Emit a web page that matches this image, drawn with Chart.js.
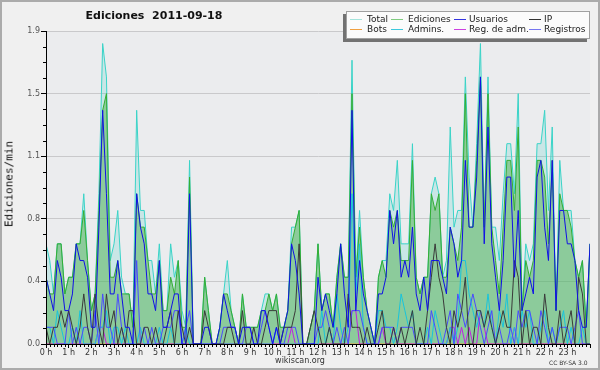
<!DOCTYPE html>
<html>
<head>
<meta charset="utf-8">
<script src="https://cdn.jsdelivr.net/npm/chart.js@4/dist/chart.umd.min.js"></script>
<style>
body{margin:0;background:#fff}
#wrap{position:relative;width:600px;height:370px;background:#f0f0f0;overflow:hidden}
#wrap:after{content:'';position:absolute;left:0;top:0;right:0;bottom:0;border:2px solid #ababab;pointer-events:none}
canvas{position:absolute;left:0;top:0}
.t{position:absolute;font-family:"DejaVu Sans",sans-serif;white-space:nowrap;color:#222}
#title{left:154px;top:9px;transform:translateX(-50%);font-weight:bold;font-size:11px;color:#111}
#ylab{left:9px;top:184px;transform:translate(-50%,-50%) rotate(-90deg);font-family:"DejaVu Sans Mono",monospace;font-size:11px;color:#111}
#site{left:300px;top:356px;transform:translateX(-50%);font-size:8px;color:#333}
#lic{left:549px;top:359px;font-size:6px;color:#333}
#legend{position:absolute;left:346px;top:11px;width:242px;height:26px;background:#fbfbfb;border:1px solid #a0a0a0;box-shadow:-3px 3px 0 #727272}
.lt{position:absolute;font-family:"DejaVu Sans",sans-serif;font-size:9px;color:#222;line-height:10px;white-space:nowrap}
.ll{position:absolute;display:block;height:1px;width:12px}
</style>
</head>
<body>
<div id="wrap">
<canvas id="c" width="600" height="370"></canvas>
<div class="t" id="title">Ediciones&nbsp; 2011-09-18</div>
<div class="t" id="ylab">Ediciones/min</div>
<div class="t" id="site">wikiscan.org</div>
<div class="t" id="lic">CC BY-SA 3.0</div>
<div id="legend"></div>
</div>
<script>
// valores cada 10 minutos (0 h .. 24 h)
const total = [
0.6,0.5,0.3,0.6,0.6,0.3,0.4,0.4,0.6,0.6,
0.9,0.5,0.2,0.3,0.9,1.8,1.6,0.5,0.6,0.8,
0.4,0.3,0.3,0.1,1.4,0.8,0.8,0.5,0.5,0.3,
0.6,0.2,0.2,0.6,0.4,0.5,0.2,0.1,1.1,0,
0,0,0.4,0.2,0,0,0.1,0.3,0.5,0.2,
0.1,0,0.3,0.1,0.1,0.1,0.1,0.2,0.3,0.3,
0.2,0.3,0.1,0.1,0.2,0.7,0.7,0.8,0,0,
0.1,0.2,0.6,0.2,0.3,0.3,0.1,0.4,0.6,0.4,
0.4,1.7,0.4,0.8,0.4,0.2,0.1,0,0.4,0.5,
0.5,0.9,0.8,1.1,0.6,0.6,0.6,1.2,0.4,0.3,
0.4,0.4,0.9,1.0,0.9,0.4,0.5,1.3,0.7,0.8,
0.8,1.6,1.0,0.7,1.2,1.8,0.7,1.6,0.7,0.7,
0.5,0.9,1.2,1.2,0.9,1.5,0.2,0.6,0.5,0.6,
1.2,1.2,1.4,0.8,1.3,0.2,1.1,0.8,0.8,0.8,
0.5,0.4,0.5,0.1,0.6];
const ediciones = [
0.4,0.3,0.3,0.6,0.6,0.3,0.4,0.4,0.6,0.6,
0.8,0.5,0.2,0.3,0.8,1.4,1.5,0.4,0.4,0.5,
0.3,0.3,0.3,0.1,0.9,0.7,0.7,0.5,0.3,0.3,
0.5,0.2,0.2,0.4,0.3,0.5,0.1,0.1,1.0,0,
0,0,0.4,0.2,0,0,0.1,0.3,0.3,0.2,
0.1,0,0.3,0.1,0.1,0.1,0.1,0.2,0.2,0.3,
0.2,0.3,0.1,0.1,0.2,0.6,0.7,0.8,0,0,
0.1,0.2,0.6,0.2,0.3,0.3,0.1,0.4,0.6,0.4,
0.4,1.5,0.4,0.7,0.4,0.2,0.1,0,0.4,0.5,
0.4,0.8,0.7,0.8,0.5,0.5,0.5,1.1,0.4,0.3,
0.4,0.4,0.9,0.8,0.9,0.4,0.4,0.7,0.6,0.5,
0.7,1.5,0.7,0.7,1.1,1.6,0.7,1.5,0.7,0.5,
0.3,0.7,1.1,1.1,0.8,1.3,0.2,0.5,0.4,0.5,
1.1,1.1,1.0,0.6,1.1,0.2,0.9,0.8,0.8,0.7,
0.5,0.4,0.5,0.1,0.6];
const usuarios = [
0.4,0.3,0.2,0.5,0.4,0.2,0.2,0.3,0.6,0.5,
0.5,0.4,0.1,0.1,0.7,1.4,0.9,0.3,0.3,0.5,
0.3,0.1,0.1,0,0.9,0.7,0.6,0.3,0.3,0.2,
0.5,0.1,0.1,0.2,0.3,0.3,0,0,0.9,0,
0,0,0.1,0.1,0,0,0.1,0.3,0.2,0.1,
0.1,0,0.1,0.1,0.1,0,0,0.2,0.2,0.1,
0,0.1,0,0.1,0.2,0.6,0.5,0.3,0,0,
0,0,0.4,0.2,0.3,0.2,0.1,0.3,0.6,0.3,
0.1,1.4,0.2,0.5,0.3,0.2,0.1,0,0.3,0.3,
0.4,0.8,0.6,0.8,0.4,0.5,0.4,0.7,0.3,0.2,
0.4,0.2,0.5,0.5,0.5,0.4,0.3,0.7,0.6,0.4,
0.5,1.1,0.7,0.7,1.0,1.6,0.6,1.3,0.6,0.4,
0.2,0.5,1.0,1.0,0.4,0.8,0.2,0.3,0.4,0.3,
1.0,1.1,0.7,0.5,1.1,0.2,0.8,0.8,0.6,0.6,
0.5,0.2,0.1,0.1,0.6];
const ip = [
0.1,0,0.1,0.1,0.2,0.1,0.2,0.1,0,0.1,
0.3,0.1,0,0.3,0.1,0,0.3,0.1,0.2,0,
0.1,0,0.2,0.2,0,0,0.1,0.1,0,0.1,
0,0,0.1,0.2,0,0.2,0.1,0,0.1,0,
0,0,0.2,0.1,0,0,0,0,0.1,0.1,
0,0,0.2,0,0,0.1,0,0,0.1,0.2,
0.2,0.2,0,0.1,0.1,0.1,0.2,0.6,0,0,
0.1,0.2,0.1,0,0,0.1,0,0,0,0,
0.3,0.1,0.1,0.1,0,0.1,0,0,0.1,0.2,
0,0,0.1,0,0.1,0,0.1,0.2,0,0.1,
0,0.2,0.4,0.6,0.4,0.3,0.1,0,0.2,0.1,
0.2,0.4,0,0,0.2,0.2,0.1,0.2,0.1,0,
0.1,0.2,0.1,0.1,0.5,0.4,0,0.2,0,0.1,
0.1,0,0.3,0.1,0,0,0.2,0,0.1,0.2,
0,0.4,0.3,0,0];
const bots = new Array(145).fill(0);
const admins = [
0.1,0.1,0,0.2,0.1,0,0,0.1,0,0.2,
0,0,0,0,0.1,0.1,0.2,0,0.1,0.1,
0,0.1,0,0,0,0.1,0,0,0,0,
0.1,0,0,0.1,0,0,0,0.1,0,0,
0,0,0,0,0,0,0,0,0,0,
0,0,0,0,0,0,0,0,0,0,
0,0.1,0,0,0,0,0,0,0,0,
0,0,0,0.2,0,0.1,0,0.3,0.1,0,
0.1,0.9,0.3,0.6,0.1,0,0,0,0.2,0.2,
0.1,0.1,0,0.1,0.3,0.2,0.1,0.2,0,0,
0,0.1,0,0.2,0.1,0,0,0.1,0,0.1,
0.5,0.5,0.3,0.2,0.1,0.2,0.1,0.3,0.1,0,
0.2,0.1,0.3,0,0.1,0,0.2,0.1,0.2,0,
0,0.1,0.2,0,0.1,0,0.1,0.2,0,0.1,
0,0,0.1,0,0];
const regAdm = [
0,0,0,0,0,0,0,0,0,0,
0,0,0,0,0.1,0.1,0,0,0,0,
0,0,0,0,0,0,0,0,0,0,
0,0,0,0,0,0,0,0,0,0,
0,0,0,0,0,0,0,0,0,0,
0,0,0,0,0,0,0,0,0,0,
0,0,0,0,0,0.1,0,0,0,0,
0,0,0,0,0,0,0,0,0,0,
0,0.2,0.2,0,0,0,0,0,0,0.1,
0,0,0.1,0,0,0,0,0,0,0,
0,0,0,0,0,0,0,0.1,0.1,0,
0.1,0,0.1,0,0,0.2,0.1,0,0,0,
0,0,0,0,0.1,0,0,0,0,0,
0,0,0,0,0,0,0,0,0,0,
0,0,0,0,0];
const registros = [
0.1,0.1,0.1,0,0,0,0.2,0,0.1,0,
0.1,0.1,0,0.2,0,0.3,0.1,0.1,0,0.3,
0.1,0,0,0,0.5,0,0.1,0,0.1,0,
0,0.1,0.1,0.1,0.2,0.2,0,0.1,0.2,0,
0,0,0,0,0,0,0,0.1,0.1,0.1,
0.1,0,0,0.1,0.1,0,0,0.1,0.2,0.1,
0,0.1,0,0,0.1,0.1,0.1,0,0,0,
0,0,0.1,0.1,0.2,0.1,0,0.1,0,0.1,
0,0.2,0.2,0.2,0.1,0,0,0,0,0.1,
0.1,0.1,0.1,0,0.1,0.1,0.1,0.1,0,0,
0,0,0.2,0.1,0,0,0.1,0.2,0,0.3,
0.2,0.1,0.2,0.3,0.2,0.1,0,0.1,0.2,0,
0.1,0,0,0.1,0,0.2,0.1,0.2,0.2,0.1,
0,0.2,0.1,0,0.1,0,0.1,0.1,0.1,0,
0.1,0.2,0,0,0];

const yMax = 1.875, yStep = 0.375;

const series = [
  {name:'Usuarios', data:usuarios, color:'#1010e6', legend:'#3434e0', order:0},
  {name:'IP', data:ip, color:'#3a3a3a', legend:'#333333', order:1},
  {name:'Registros', data:registros, color:'#4a4aff', legend:'#7676f0', order:2},
  {name:'Admins.', data:admins, color:'#18c4dc', legend:'#3cc8dc', order:3},
  {name:'Reg. de adm.', data:regAdm, color:'#c020e0', legend:'#cc40e0', order:4},
  {name:'Bots', data:bots, color:'#f0a040', legend:'#f0a040', order:5},
  {name:'Ediciones', data:ediciones, color:'#34ae34', legend:'#80cc80', order:6, fill:'rgba(80,175,80,0.5)'},
  {name:'Total', data:total, color:'#3ad4c8', legend:'#a4e4dc', order:7, fill:'rgba(64,208,200,0.2)'}
];

function newDataset(s) {
  return {
    label: s.name,
    data: s.data.map((v,i) => ({x:i, y:v})),
    borderColor: s.color,
    borderWidth: 1,
    backgroundColor: s.fill || 'transparent',
    fill: s.fill ? 'origin' : false,
    pointRadius: 0,
    tension: 0,
    order: s.order
  };
}

const bgPlugin = {
  id: 'plotbg',
  beforeDraw(chart) {
    const a = chart.chartArea, ctx = chart.ctx;
    ctx.save();
    ctx.fillStyle = '#ebecee';
    ctx.fillRect(a.left, a.top, a.right - a.left, a.bottom - a.top);
    ctx.restore();
  }
};

// marcas menores de los ejes
const minorTicks = {
  id: 'minor',
  afterDraw(chart) {
    const ctx = chart.ctx, x = chart.scales.x, y = chart.scales.y;
    ctx.save();
    ctx.strokeStyle = '#000';
    ctx.lineWidth = 1;
    ctx.beginPath();
    for (let k = 0; k <= 20; k++) {
      if (k % 4 === 0) continue;
      const py = Math.round(y.getPixelForValue(k * yStep / 4)) + 0.5;
      ctx.moveTo(x.left - 3, py); ctx.lineTo(x.left, py);
    }
    for (let i = 0; i <= 144; i++) {
      if (i % 6 === 0) continue;
      const px = Math.round(x.getPixelForValue(i)) + 0.5;
      ctx.moveTo(px, y.bottom); ctx.lineTo(px, y.bottom + 3);
    }
    ctx.stroke();
    ctx.restore();
  }
};

const ctx = document.getElementById('c').getContext('2d');
const chart = new Chart(ctx, {
  type: 'line',
  data: { datasets: series.map(newDataset) },
  options: {
    responsive: false,
    animation: false,
    devicePixelRatio: 1,
    layout: { padding: {top: 31, right: 10, left: 0, bottom: 0} },
    plugins: { legend: {display: false}, title: {display: false}, tooltip: {enabled: false} },
    scales: {
      x: {
        type: 'linear', min: 0, max: 144,
        afterFit: s => { s.height = 26; },
        grid: { drawOnChartArea: false, tickLength: 4, tickColor: '#000' },
        border: { color: '#000', z: 1 },
        ticks: {
          stepSize: 6, autoSkip: false, maxRotation: 0, padding: 0,
          color: '#333', font: {family: 'DejaVu Sans', size: 8},
          callback: v => v < 144 ? (v / 6) + ' h' : ''
        }
      },
      y: {
        min: 0, max: yMax,
        afterFit: s => { s.width = 46; },
        grid: {
          color: c => c.tick && c.tick.value === 0 ? 'rgba(0,0,0,0)' : '#c9c9cb',
          tickLength: 5, tickColor: '#000'
        },
        border: { color: '#000', z: 1 },
        ticks: {
          stepSize: yStep, padding: 1,
          color: '#555', font: {family: 'DejaVu Sans', size: 8},
          callback: v => v.toFixed(1)
        }
      }
    }
  },
  plugins: [bgPlugin, minorTicks]
});

// leyenda (4 columnas x 2 filas)
const legendOrder = ['Total','Ediciones','Usuarios','IP','Bots','Admins.','Reg. de adm.','Registros'];
const lineX = [3, 44, 107, 182];
const textX = [20, 61, 122, 197];
const lg = document.getElementById('legend');
legendOrder.forEach((n, k) => {
  const s = series.find(d => d.name === n);
  const col = k % 4, row = Math.floor(k / 4);
  const top = 2 + row * 10;
  const ln = document.createElement('div');
  ln.className = 'll';
  ln.style.left = lineX[col] + 'px';
  ln.style.top = (top + 5) + 'px';
  ln.style.background = s.legend;
  lg.appendChild(ln);
  const tx = document.createElement('div');
  tx.className = 'lt';
  tx.style.left = textX[col] + 'px';
  tx.style.top = top + 'px';
  tx.textContent = n;
  lg.appendChild(tx);
});
</script>
</body>
</html>
